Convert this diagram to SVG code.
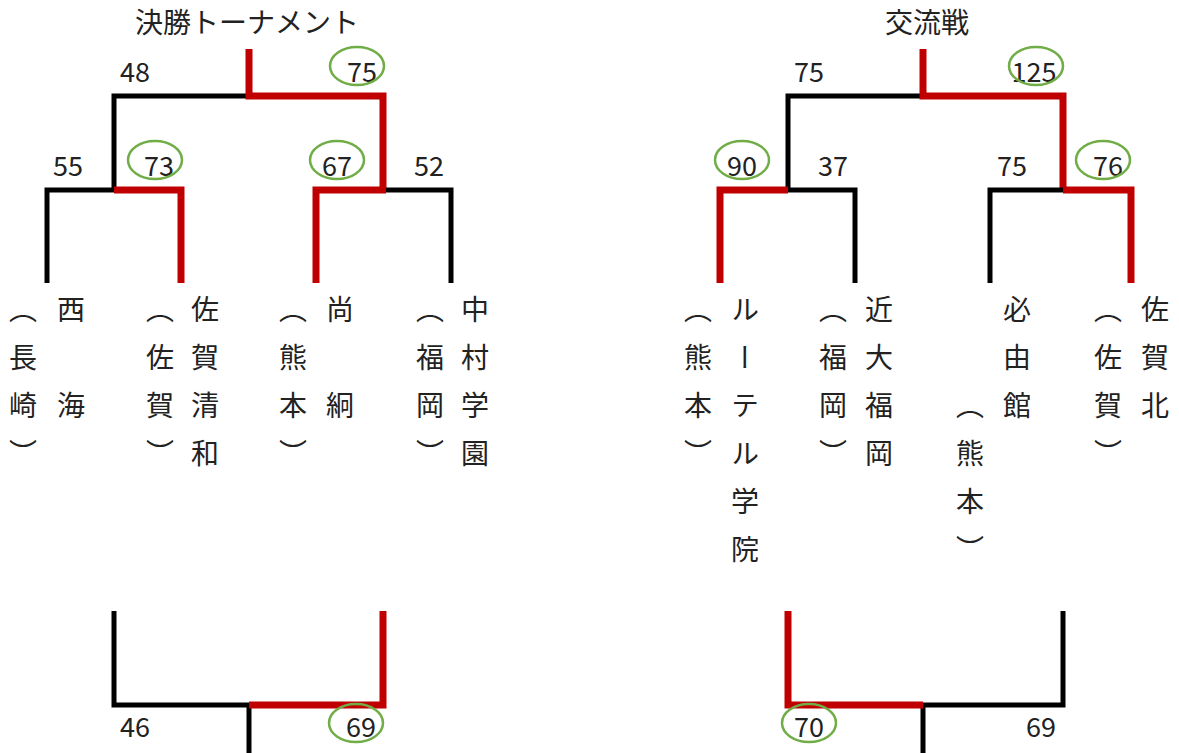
<svg xmlns="http://www.w3.org/2000/svg" width="1179" height="753" viewBox="0 0 1179 753">
<style>
.bk{fill:none;stroke:#000;stroke-width:5;stroke-linejoin:miter}
.rd{fill:none;stroke:#C00000;stroke-width:7;stroke-linejoin:miter}
.ring{fill:none;stroke:#70AD47;stroke-width:2.5}
.num{font-family:"Noto Sans CJK JP","Noto Sans",sans-serif;font-size:27px;fill:#222;text-anchor:middle}
.ttl{font-family:"Noto Sans CJK JP",sans-serif;font-size:28px;fill:#222;text-anchor:middle}
.v{font-family:"Noto Sans CJK JP",sans-serif;font-size:28px;fill:#222;writing-mode:vertical-rl;letter-spacing:20px}
</style>
<rect width="1179" height="753" fill="#fff"/>
<g id="connectors">
<path class="bk" d="M114,190 V96 H249"/>
<path class="rd" d="M249,49 V96 H383 V190"/>
<path class="bk" d="M47,283 V190 H114"/>
<path class="rd" d="M114,190 H181 V283"/>
<path class="bk" d="M386,190 H451 V283"/>
<path class="rd" d="M316,283 V190 H386"/>
<path class="bk" d="M788,190 V96 H923"/>
<path class="rd" d="M923,49 V96 H1063 V190"/>
<path class="bk" d="M788,190 H855 V283"/>
<path class="rd" d="M720,283 V190 H788"/>
<path class="bk" d="M990,283 V190 H1063"/>
<path class="rd" d="M1063,190 H1131 V283"/>
<path class="bk" d="M114,611 V705 H249"/>
<path class="bk" d="M249,705 V753"/>
<path class="rd" d="M249,705 H383 V611"/>
<path class="bk" d="M923,705 H1063 V611"/>
<path class="bk" d="M923,705 V753"/>
<path class="rd" d="M788,611 V705 H923"/>
</g>
<g id="titles">
<text class="ttl" x="247" y="33">決勝トーナメント</text>
<text class="ttl" x="927" y="33">交流戦</text>
</g>
<g id="scores">
<text class="num" x="135" y="82">48</text>
<text class="num" x="362" y="82">75</text>
<ellipse class="ring" cx="357" cy="66" rx="27" ry="19"/>
<text class="num" x="68" y="176">55</text>
<text class="num" x="159" y="176">73</text>
<ellipse class="ring" cx="155" cy="160" rx="27" ry="19"/>
<text class="num" x="337" y="176">67</text>
<ellipse class="ring" cx="337" cy="160" rx="27" ry="19"/>
<text class="num" x="429" y="176">52</text>
<text class="num" x="809" y="82">75</text>
<text class="num" x="1034" y="82">125</text>
<ellipse class="ring" cx="1036" cy="66" rx="27" ry="19"/>
<text class="num" x="742" y="176">90</text>
<ellipse class="ring" cx="742" cy="160" rx="27" ry="19"/>
<text class="num" x="833" y="176">37</text>
<text class="num" x="1012" y="176">75</text>
<text class="num" x="1108" y="176">76</text>
<ellipse class="ring" cx="1103" cy="160" rx="27" ry="19"/>
<text class="num" x="135" y="737">46</text>
<text class="num" x="361" y="737">69</text>
<ellipse class="ring" cx="356" cy="723" rx="27" ry="19"/>
<text class="num" x="809" y="737">70</text>
<ellipse class="ring" cx="809" cy="723" rx="27" ry="19"/>
<text class="num" x="1041" y="737">69</text>
</g>
<g id="team-nishikai"><text class="v" x="23" y="295">（長崎）</text><text class="v" x="71" y="295">西　海</text></g>
<g id="team-sagaseiwa"><text class="v" x="160" y="295">（佐賀）</text><text class="v" x="205" y="295">佐賀清和</text></g>
<g id="team-shokei"><text class="v" x="293" y="295">（熊本）</text><text class="v" x="340" y="295">尚　絅</text></g>
<g id="team-nakamura"><text class="v" x="430" y="295">（福岡）</text><text class="v" x="475" y="295">中村学園</text></g>
<g id="team-lutheran"><text class="v" x="698" y="295">（熊本）</text><text class="v" x="745" y="295">ルーテル学院</text></g>
<g id="team-kindai"><text class="v" x="833" y="295">（福岡）</text><text class="v" x="879" y="295">近大福岡</text></g>
<g id="team-hitsuyukan"><text class="v" x="970" y="391">（熊本）</text><text class="v" x="1017" y="295">必由館</text></g>
<g id="team-sagakita"><text class="v" x="1108" y="295">（佐賀）</text><text class="v" x="1155" y="295">佐賀北</text></g>
</svg>
